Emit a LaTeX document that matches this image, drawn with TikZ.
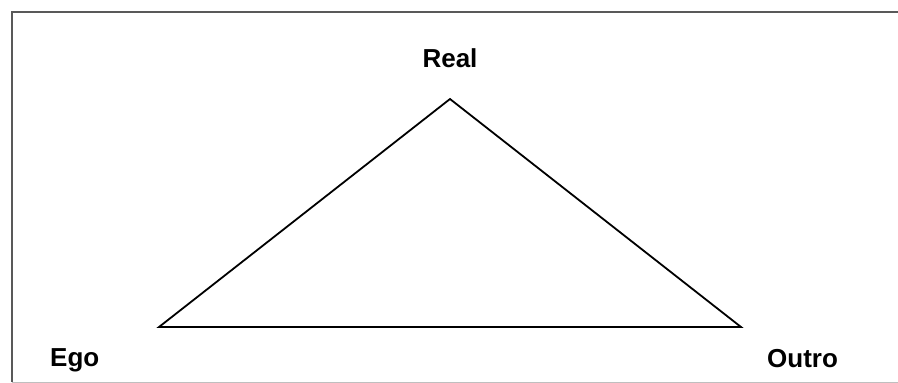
\documentclass[tikz,border=0pt]{standalone}
\usepackage{fontspec}
\setmainfont{Liberation Sans}
\begin{document}
\begin{tikzpicture}[x=1pt,y=-1pt,
  lbl/.style={font=\fontsize{26}{30}\selectfont\bfseries, inner sep=0pt},
  edge/.style={draw=black, line width=1.8pt, line join=miter}]
\useasboundingbox (0,0) rectangle (898,383);
\draw[line width=2pt, draw=black!65] (12,382) -- (12,12) -- (898,12);
\draw[line width=1pt, draw=black!25] (12,382) -- (898,382);
\coordinate (apex) at (450,99);
\coordinate (bl) at (159,327);
\coordinate (br) at (741,327);
\draw[edge] (apex) -- (br) -- (bl) -- cycle;
\node[lbl, anchor=base] (real) at (450,67) {Real};
\node[lbl, anchor=base west] (ego) at (50,366) {Ego};
\node[lbl, anchor=base west] (outro) at (767,367) {Outro};
\end{tikzpicture}
\end{document}
